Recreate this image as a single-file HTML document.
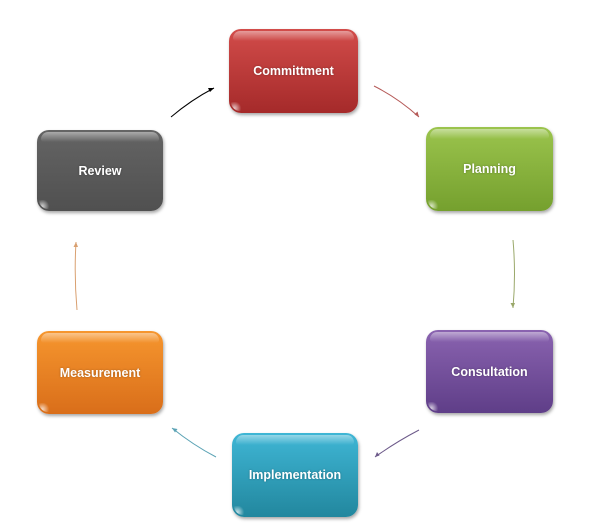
<!DOCTYPE html>
<html><head><meta charset="utf-8"><style>
html,body{margin:0;padding:0;background:#fff;width:605px;height:530px;overflow:hidden;position:relative;font-family:"Liberation Sans",Arial,sans-serif}
.b{position:absolute;border-radius:12px;color:#fff;font-weight:bold;font-size:12.5px;display:flex;align-items:center;justify-content:center;box-shadow:1px 2px 3px rgba(0,0,0,.35);text-shadow:0 0 2px rgba(0,0,0,.3)}
.b::before{content:"";position:absolute;left:4px;right:4px;top:2px;height:10px;border-radius:10px 10px 4px 4px;background:linear-gradient(rgba(255,255,255,.45),rgba(255,255,255,0))}
.b::after{content:"";position:absolute;left:2px;bottom:2px;width:11px;height:9px;border-radius:0 0 0 11px;background:radial-gradient(circle at 30% 70%,rgba(255,255,255,.75),rgba(255,255,255,0) 70%)}
svg{position:absolute;left:0;top:0}
</style></head><body>
<div class="b" style="left:229px;top:29px;width:129px;height:84px;background:linear-gradient(#d24c4a,#a52a2a)">Committment</div>
<div class="b" style="left:426px;top:127px;width:127px;height:84px;background:linear-gradient(#9bc44d,#75a02e)">Planning</div>
<div class="b" style="left:426px;top:330px;width:127px;height:83px;background:linear-gradient(#8a63b0,#5f3e88)">Consultation</div>
<div class="b" style="left:232px;top:433px;width:126px;height:84px;background:linear-gradient(#3fb6d5,#22879e)">Implementation</div>
<div class="b" style="left:37px;top:331px;width:126px;height:83px;background:linear-gradient(#f6962e,#d96e1a)">Measurement</div>
<div class="b" style="left:37px;top:130px;width:126px;height:81px;background:linear-gradient(#646464,#505050)">Review</div>
<svg width="605" height="530">
<g fill="none" stroke-width="1">
<path d="M171,117 Q191,100 214,88" stroke="#000"/>
<path d="M374,86 Q398,98 419,117" stroke="#b55a58"/>
<path d="M513,240 Q516,274 513,308" stroke="#9aa86a"/>
<path d="M419,430 Q396,442 375,457" stroke="#6d5a8a"/>
<path d="M216,457 Q193,445 172,428" stroke="#5ba3b5"/>
<path d="M77,310 Q74,276 76,242" stroke="#d9a070"/>
</g>
<g>
<path d="M214,88 l-6,0 l2,4 z" fill="#000"/>
<path d="M419,117 l-1.5,-5.5 l-3,3 z" fill="#b55a58"/>
<path d="M513,308 l-2.5,-5 l4.5,0 z" fill="#9aa86a"/>
<path d="M375,457 l2,-5 l2.5,3.5 z" fill="#6d5a8a"/>
<path d="M172,428 l5.5,1 l-2.5,3.5 z" fill="#5ba3b5"/>
<path d="M76,242 l-2.5,5 l4.5,0 z" fill="#d9a070"/>
</g>
</svg>
</body></html>
